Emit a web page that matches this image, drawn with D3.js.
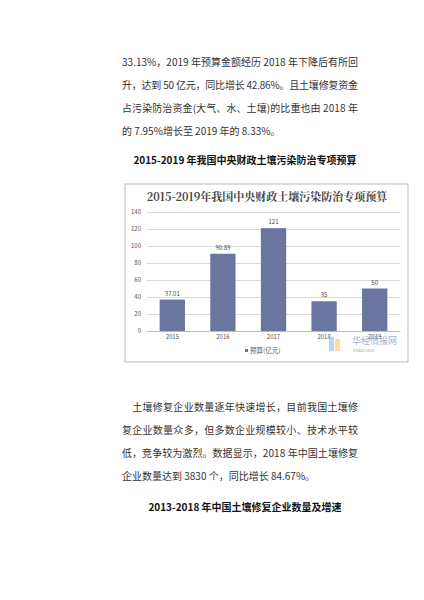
<!DOCTYPE html>
<html><head><meta charset="utf-8">
<script src="https://cdn.jsdelivr.net/npm/d3@7"></script>
<style>body{margin:0;background:#fff}</style>
</head><body>
<svg id="page" width="424" height="600"></svg>
<script>
const years = ["2015", "2016", "2017", "2018", "2019"];
const budget = [37.01, 90.89, 121, 35, 50];
const budgetLabels = ["37.01", "90.89", "121", "35", "50"];
const yTicks = [0, 20, 40, 60, 80, 100, 120, 140];

const topText = [
  "33.13%，2019 年预算金额经历 2018 年下降后有所回",
  "升，达到 50 亿元，同比增长 42.86%。且土壤修复资金",
  "占污染防治资金(大气、水、土壤)的比重也由 2018 年",
  "的 7.95%增长至 2019 年的 8.33%。"
];
const bottomText = [
  "　土壤修复企业数量逐年快速增长，目前我国土壤修",
  "复企业数量众多，但多数企业规模较小、技术水平较",
  "低，竞争较为激烈。数据显示，2018 年中国土壤修复",
  "企业数量达到 3830 个，同比增长 84.67%。"
];

const svg = d3.select("#page");
const font = "'Noto Sans CJK SC', 'Noto Sans', sans-serif";

// body text
const para = (lines, y0, step) => lines.forEach((t, i) => {
  svg.append("text").attr("x", 122).attr("y", y0 + i * step)
    .attr("font-family", font).attr("font-size", 10).attr("fill", "#333")
    .attr("textLength", i === lines.length - 1 ? null : 236)
    .text(t);
});
para(topText, 66, 23);
para(bottomText, 411, 23);

svg.append("text").attr("x", 245).attr("y", 164).attr("text-anchor", "middle")
  .attr("font-family", font).attr("font-size", 10).attr("font-weight", "bold").attr("fill", "#111")
  .text("2015-2019 年我国中央财政土壤污染防治专项预算");
svg.append("text").attr("x", 245).attr("y", 511).attr("text-anchor", "middle")
  .attr("font-family", font).attr("font-size", 10).attr("font-weight", "bold").attr("fill", "#111")
  .text("2013-2018 年中国土壤修复企业数量及增速");

// chart frame
svg.append("rect").attr("x", 125).attr("y", 184).attr("width", 283).attr("height", 178)
  .attr("fill", "#fff").attr("stroke", "#bbb");
svg.append("text").attr("x", 267).attr("y", 201).attr("text-anchor", "middle")
  .attr("font-family", "'Noto Serif CJK SC', serif").attr("font-size", 11).attr("font-weight", "bold")
  .attr("fill", "#444").text("2015-2019年我国中央财政土壤污染防治专项预算");

const margin = { left: 147, right: 400, top: 212, bottom: 331 };
const x = d3.scaleBand().domain(years).range([margin.left, margin.right]).paddingInner(0.5).paddingOuter(0.25);
const y = d3.scaleLinear().domain([0, 140]).range([margin.bottom, margin.top]);

const yAxis = svg.append("g").attr("transform", `translate(${margin.left},0)`)
  .call(d3.axisLeft(y).tickValues(yTicks).tickSize(-(margin.right - margin.left)));
yAxis.select(".domain").remove();
yAxis.selectAll("line").attr("stroke", "#d9d9d9");
yAxis.selectAll("text").attr("font-family", font).attr("font-size", 6).attr("fill", "#555").attr("x", -6);

const xAxis = svg.append("g").attr("transform", `translate(0,${margin.bottom})`)
  .call(d3.axisBottom(x).tickSize(0));
xAxis.select(".domain").attr("stroke", "#bbb");
xAxis.selectAll("text").attr("font-family", font).attr("font-size", 6).attr("fill", "#555").attr("dy", "0.9em");

svg.selectAll(".bar").data(budget).enter().append("rect")
  .attr("x", (d, i) => x(years[i])).attr("y", d => y(d))
  .attr("width", x.bandwidth()).attr("height", d => y(0) - y(d))
  .attr("fill", "#6a75a0");
svg.selectAll(".lbl").data(budget).enter().append("text")
  .attr("x", (d, i) => x(years[i]) + x.bandwidth() / 2).attr("y", d => y(d) - 4)
  .attr("text-anchor", "middle").attr("font-family", font).attr("font-size", 6).attr("fill", "#444")
  .text((d, i) => budgetLabels[i]);

// legend
svg.append("rect").attr("x", 245).attr("y", 349).attr("width", 3).attr("height", 3).attr("fill", "#6a75a0");
svg.append("text").attr("x", 250).attr("y", 353).attr("font-family", font).attr("font-size", 6.5)
  .attr("fill", "#555").text("预算(亿元)");

// watermark
svg.append("rect").attr("x", 329).attr("y", 337).attr("width", 5).attr("height", 14).attr("fill", "#9cc3e6").attr("opacity", 0.7);
svg.append("rect").attr("x", 335).attr("y", 339).attr("width", 5).attr("height", 12).attr("fill", "#f3d27a").attr("opacity", 0.7);
svg.append("text").attr("x", 352).attr("y", 344).attr("font-family", font).attr("font-size", 9)
  .attr("fill", "#8aa3c4").attr("opacity", 0.8).text("华经情报网");
svg.append("text").attr("x", 353).attr("y", 352).attr("font-family", font).attr("font-size", 4)
  .attr("fill", "#aaa").text("huaon.com");
</script>
</body></html>
